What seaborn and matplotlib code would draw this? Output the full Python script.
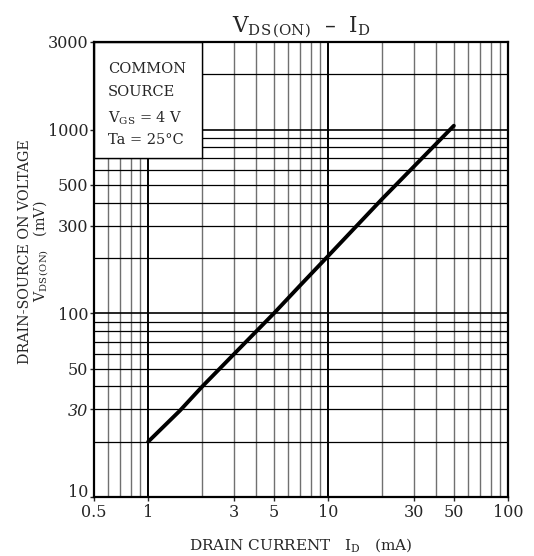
import matplotlib.pyplot as plt
import pandas as pd
import seaborn as sns
from matplotlib.patches import Rectangle

# Values
drain_current = [1, 1.5, 2, 3, 5, 7, 10, 20, 30, 50]          # mA
vds_on = [20, 29.5, 40, 60, 100, 142, 205, 420, 630, 1050]   # mV

x_ticks = [0.5, 1, 3, 5, 10, 30, 50, 100]
x_ticklabels = ["0.5", "1", "3", "5", "10", "30", "50", "100"]
y_ticks = [10, 30, 50, 100, 300, 500, 1000, 3000]
y_ticklabels = ["10", "30", "50", "100", "300", "500", "1000", "3000"]

x_grid = [0.6, 0.7, 0.8, 0.9, 1, 2, 3, 4, 5, 6, 7, 8, 9, 10,
          20, 30, 40, 50, 60, 70, 80, 90]
y_grid = [20, 30, 40, 50, 60, 70, 80, 90, 100,
          200, 300, 400, 500, 600, 700, 800, 900, 1000, 2000]

# condition box corner (covers the grid in the top-left)
box_x, box_y = 2, 700
x_min, x_max, y_min, y_max = 0.5, 100, 10, 3000

data = pd.DataFrame({"I_D": drain_current, "V_DS": vds_on})

sns.set_theme(style="white")
plt.rcParams["font.family"] = ["DejaVu Serif"]
plt.rcParams["mathtext.fontset"] = "dejavuserif"

fig = plt.figure(figsize=(5.34, 5.56), dpi=100)
ax = fig.add_axes([94 / 534, 59 / 556, 414 / 534, 455 / 556])
ax.set_xscale("log")
ax.set_yscale("log")
ax.set_xlim(x_min, x_max)
ax.set_ylim(y_min, y_max)

for xv in x_grid:
    top = box_y if xv < box_x else y_max
    if xv in (1, 10):
        ax.vlines(xv, y_min, top, color="black", lw=1.4, zorder=1)
    else:
        ax.vlines(xv, y_min, top, color="#707070", lw=1.0, zorder=1)
for yv in y_grid:
    left = box_x if yv > box_y else x_min
    lw = 1.2 if yv in (100, 1000) else 0.9
    ax.hlines(yv, left, x_max, color="black", lw=lw, zorder=1)

box = Rectangle((x_min, box_y), box_x - x_min, y_max - box_y, facecolor="white",
                edgecolor="black", lw=1.0, zorder=2)
ax.add_patch(box)

sns.lineplot(data=data, x="I_D", y="V_DS", color="black", lw=2.8, ax=ax, zorder=3)

txt = dict(fontsize=10.5, va="center", zorder=4)
ax.text(0.6, 2150, "COMMON", **txt)
ax.text(0.6, 1600, "SOURCE", **txt)
ax.text(0.6, 1150, r"V$_{\mathrm{GS}}$ = 4 V", **txt)
ax.text(0.6, 880, "Ta = 25°C", **txt)

ax.minorticks_off()
ax.set_xticks(x_ticks)
ax.set_xticklabels(x_ticklabels)
ax.set_yticks(y_ticks)
ax.set_yticklabels(y_ticklabels)
for lab in ax.get_yticklabels():
    if lab.get_text() == "30":
        lab.set_style("italic")
    if lab.get_text() == "10":
        lab.set_verticalalignment("baseline")
ax.tick_params(axis="both", labelsize=11.5, length=3, width=1, direction="out",
               bottom=True, left=True, pad=1)
ax.tick_params(axis="x", pad=2)

for s in ax.spines.values():
    s.set_color("black")
    s.set_linewidth(1.6)
    s.set_zorder(5)

ax.set_xlabel(r"DRAIN CURRENT   I$_{\mathrm{D}}$   (mA)", fontsize=11, labelpad=11)
ax.set_ylabel("DRAIN-SOURCE ON VOLTAGE\n" + r"V$_{\mathrm{DS\,(ON)}}$   (mV)",
              fontsize=10.3, linespacing=1.0)
ax.yaxis.set_label_coords(-0.104, 0.54)
ax.set_title(r"V$_{\mathrm{DS\,(ON)}}$  –  I$_{\mathrm{D}}$", fontsize=15.5, pad=7)

fig.savefig("out.png", dpi=100)
